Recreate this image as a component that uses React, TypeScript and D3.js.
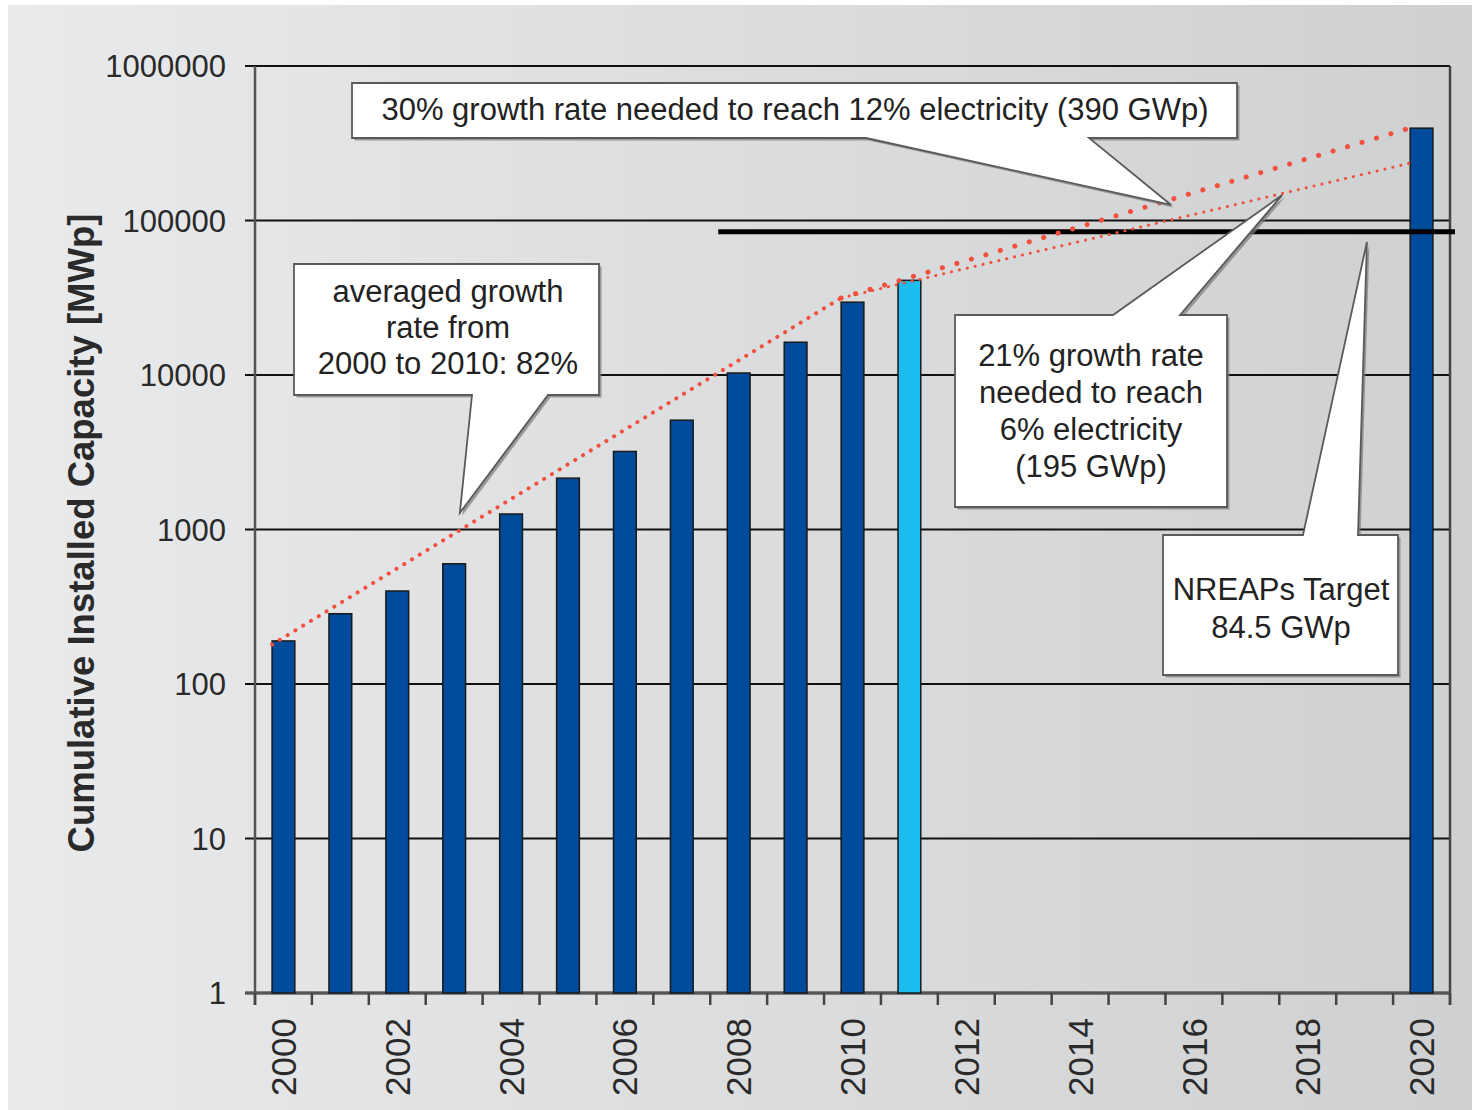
import React from "react";
import * as d3 from "d3";

// ---- data ----
const categories: string[] = [
  "2000","2001","2002","2003","2004","2005","2006","2007","2008","2009","2010",
  "2011","2012","2013","2014","2015","2016","2017","2018","2019","2020",
];
const tickLabels: string[] = ["2000","2002","2004","2006","2008","2010","2012","2014","2016","2018","2020"];
const barYears: string[] = ["2000","2001","2002","2003","2004","2005","2006","2007","2008","2009","2010","2011","2020"];
const barValues: number[] = [190, 285, 400, 600, 1260, 2150, 3200, 5100, 10300, 16300, 29600, 41000, 396000];
const barHighlight: boolean[] = [false,false,false,false,false,false,false,false,false,false,false,true,false];
const yTicks: number[] = [1, 10, 100, 1000, 10000, 100000, 1000000];

const avgLineYears: string[] = ["2000", "2010"];
const avgLineValues: number[] = [180, 31500];
const line30Years: string[] = ["2010", "2020"];
const line30Values: number[] = [31500, 397000];
const line21Years: string[] = ["2010", "2020"];
const line21Values: number[] = [31500, 235000];

const targetValue = 84500;
const targetFromYear = 2007.64;
const yTitle = "Cumulative Installed Capacity [MWp]";

// annotation tips in data coordinates (fractional year, value)
const tip30 = { year: 2015.6, value: 126000 };
const tipAvg = { year: 2003.1, value: 1280 };
const tip21 = { year: 2017.55, value: 146000 };
const tipTarget = { year: 2019.04, value: 72600 };

const W = 1472;
const H = 1110;
const L = 255, R = 1450, T = 66, B = 993;
const FONT = "'Liberation Sans', Arial, Helvetica, sans-serif";

export default function App() {
  const x = d3.scaleBand<string>().domain(categories).range([L, R]).paddingInner(0.6).paddingOuter(0.3);
  const step = x.step();
  const yearX = d3.scaleLinear().domain([2000, 2021]).range([L, R]);
  const xc = (yr: number) => yearX(yr + 0.5);
  const y = d3.scaleLog().domain([1, 1e6]).range([B, T]);

  const lineGen = (years: string[], vals: number[]) =>
    d3.line<number>().x((_, i) => x(years[i])!).y((v) => y(v))(vals) || "";

  const t30 = [xc(tip30.year), y(tip30.value)];
  const tAvg = [xc(tipAvg.year), y(tipAvg.value)];
  const t21 = [xc(tip21.year), y(tip21.value)];
  const tT = [xc(tipTarget.year), y(tipTarget.value)];

  const callouts = [
    {
      d: `M352,83 H1237 V138 H1089 L${t30[0]},${t30[1]} L866,138 H352 Z`,
      lines: ["30% growth rate needed to reach 12% electricity (390 GWp)"],
      cx: 795, cy: 109, lh: 36,
    },
    {
      d: `M294,264 H599 V395 H548 L${tAvg[0]},${tAvg[1]} L472,395 H294 Z`,
      lines: ["averaged growth", "rate from", "2000 to 2010: 82%"],
      cx: 448, cy: 291, lh: 36,
    },
    {
      d: `M955,315 H1113 L${t21[0]},${t21[1]} L1180,315 H1227 V507 H955 Z`,
      lines: ["21% growth rate", "needed to reach", "6% electricity", "(195 GWp)"],
      cx: 1091, cy: 355, lh: 37,
    },
    {
      d: `M1163,535 H1303 L${tT[0]},${tT[1]} L1358,535 H1398 V675 H1163 Z`,
      lines: ["NREAPs Target", "84.5 GWp"],
      cx: 1281, cy: 589, lh: 38,
    },
  ];

  return (
    <svg width={W} height={H} style={{ position: "absolute", left: 0, top: 0 }} fontFamily={FONT}>
      <defs>
        <linearGradient id="bg" x1="0" y1="0" x2="1" y2="0">
          <stop offset="0" stopColor="#e9eaeb" />
          <stop offset="1" stopColor="#cfd0d2" />
        </linearGradient>
      </defs>
      <rect x={0} y={0} width={W} height={H} fill="#ffffff" />
      <rect x={8} y={5} width={W - 8} height={H - 5} fill="url(#bg)" />

      {/* gridlines */}
      {yTicks.map((t) => (
        <line key={"g" + t} x1={L - 10} x2={R} y1={y(t)} y2={y(t)} stroke="#111" strokeWidth={t === 1 ? 2.5 : 2} />
      ))}
      {/* y tick labels */}
      {yTicks.map((t) => (
        <text key={"yl" + t} x={226} y={y(t)} dy="0.36em" textAnchor="end" fontSize={31} fill="#2a2a2a">
          {String(t)}
        </text>
      ))}
      {/* axes frame */}
      <line x1={L} x2={L} y1={T} y2={B + 12} stroke="#555" strokeWidth={2.5} />
      <line x1={R} x2={R} y1={T} y2={B + 12} stroke="#444" strokeWidth={2.5} />
      <line x1={L - 10} x2={R} y1={B} y2={B} stroke="#555" strokeWidth={3} />
      {/* x ticks */}
      {d3.range(categories.length + 1).map((i) => (
        <line key={"xt" + i} x1={L + i * step} x2={L + i * step} y1={B} y2={B + 12} stroke="#444" strokeWidth={2.5} />
      ))}
      {/* x labels */}
      {tickLabels.map((lab) => (
        <text
          key={"xl" + lab}
          transform={`translate(${x(lab)! + x.bandwidth() / 2},1018) rotate(-90)`}
          dy="0.36em"
          textAnchor="end"
          fontSize={35}
          fill="#2a2a2a"
        >
          {lab}
        </text>
      ))}

      {/* bars */}
      {barYears.map((yr, i) => (
        <rect
          key={"b" + yr}
          x={x(yr)!}
          y={y(barValues[i])}
          width={x.bandwidth()}
          height={B - y(barValues[i])}
          fill={barHighlight[i] ? "#1bbdf0" : "#004b9b"}
          stroke="#1a1a1a"
          strokeWidth={1.5}
        />
      ))}

      {/* target line */}
      <line x1={xc(targetFromYear)} x2={R + 5} y1={y(targetValue)} y2={y(targetValue)} stroke="#000" strokeWidth={5} />

      {/* trend lines */}
      <path d={lineGen(avgLineYears, avgLineValues)} fill="none" stroke="#f0503c" strokeWidth={4} strokeLinecap="round" strokeDasharray="0.1 9" />
      <path d={lineGen(line30Years, line30Values)} fill="none" stroke="#f0503c" strokeWidth={5} strokeLinecap="round" strokeDasharray="0.1 15" />
      <path d={lineGen(line21Years, line21Values)} fill="none" stroke="#f0503c" strokeWidth={3} strokeLinecap="round" strokeDasharray="0.1 8" />

      {/* callouts */}
      {callouts.map((c, i) => (
        <g key={"c" + i}>
          <path d={c.d} transform="translate(2.5,2.5)" fill="#7a7a7a" opacity={0.7} />
          <path d={c.d} fill="#ffffff" stroke="#5a5a5a" strokeWidth={1.8} strokeLinejoin="miter" />
          {c.lines.map((ln, j) => (
            <text key={j} x={c.cx} y={c.cy + j * c.lh} dy="0.36em" textAnchor="middle" fontSize={31} fill="#222">
              {ln}
            </text>
          ))}
        </g>
      ))}

      {/* y axis title */}
      <text
        transform={`translate(94,533) rotate(-90)`}
        textAnchor="middle"
        fontSize={36.5}
        fontWeight="bold"
        fill="#2a2a2a"
      >
        {yTitle}
      </text>
    </svg>
  );
}
